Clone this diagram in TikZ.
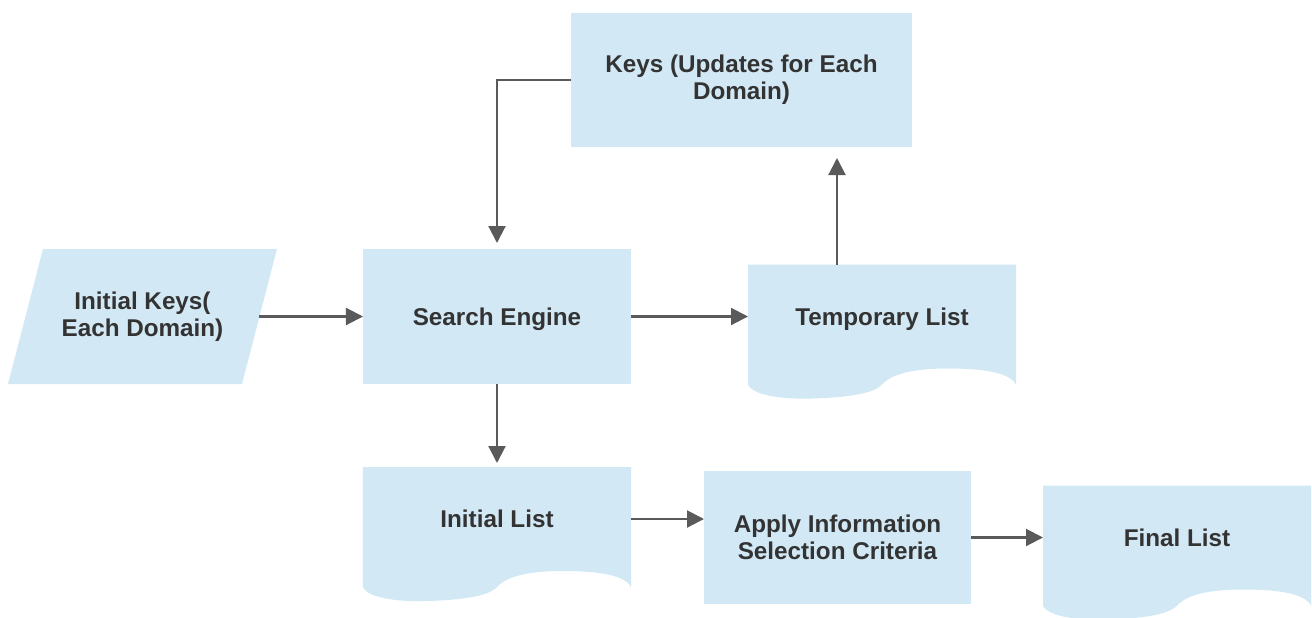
\documentclass[tikz,border=0pt]{standalone}
\usepackage{fontspec}
\setmainfont{Liberation Sans}
\usepackage{xcolor}
\usepackage{tikz}
\usetikzlibrary{
  arrows.meta,
  positioning,
  backgrounds,
  calc
}
\definecolor{boxblue}{HTML}{D2E8F5}
\definecolor{textgrey}{HTML}{333333}
\definecolor{arrowgrey}{HTML}{5A5A5A}
\tikzset{
  stepbox/.style={
    rectangle, fill=boxblue, draw=none, outer sep=0pt,
    minimum width=#1, minimum height=2.7cm, align=center,
    font=\fontsize{13.8pt}{15.5pt}\selectfont\bfseries, text=textgrey
  },
  stepbox/.default=5.36cm,
  inputbox/.style={
    rectangle, draw=none, outer sep=0pt,
    minimum width=4.68cm, minimum height=2.7cm, align=center,
    font=\fontsize{13.8pt}{15.5pt}\selectfont\bfseries, text=textgrey
  },
  listbox/.style={
    rectangle, draw=none, outer sep=0pt,
    minimum width=5.36cm, minimum height=2.08cm, align=center,
    text depth=0pt,
    font=\fontsize{13.8pt}{15.5pt}\selectfont\bfseries, text=textgrey
  },
  arrowstyle/.style={
    -{Triangle[length=0.34cm, width=0.34cm]}, line width=1.2pt, color=arrowgrey
  },
}
% slanted input shape behind an inputbox node
\newcommand{\inputshape}[1]{%
  \fill[boxblue] ($(#1.center)+(-1.99,1.35)$) -- ($(#1.center)+(2.69,1.35)$)
    -- ($(#1.center)+(1.99,-1.35)$) -- ($(#1.center)+(-2.69,-1.35)$) -- cycle;}
% wavy-bottom document shape behind a listbox node
\newcommand{\listshape}[1]{%
  \begin{scope}[shift={($(#1.south west)+(0,-0.32)$)}]
    \fill[boxblue] (0,0) -- (0,2.4) -- (5.36,2.4) -- (5.36,0)
      .. controls (5.24,0.24) and (4.7,0.32) .. (4.0,0.32)
      .. controls (3.4,0.32) and (2.9,0.24) .. (2.68,0)
      .. controls (2.5,-0.2) and (1.9,-0.26) .. (1.3,-0.28)
      .. controls (0.8,-0.3) and (0.1,-0.24) .. cycle;
  \end{scope}}

\begin{document}
\begin{tikzpicture}
  \useasboundingbox (-9.94,-6.01) rectangle (16.3,6.33);

  \node[stepbox, text depth=0pt] (search) at (0,0) {Search Engine};
  \node[inputbox, left=2.07cm of search] (initk) {Initial Keys(\\Each Domain)};
  \node[listbox, right=2.34cm of search] (temp) {Temporary List};
  \node[stepbox=6.82cm, minimum height=2.68cm, above=2.04cm of search, xshift=4.89cm] (keys)
    {Keys (Updates for Each\\Domain)};

  \node[listbox, below=1.66cm of search] (initl) {Initial List};
  \node[stepbox=5.34cm, minimum height=2.66cm, right=1.46cm of initl.east, yshift=-0.37cm] (apply)
    {Apply Information\\Selection Criteria};
  \node[listbox, right=1.44cm of apply] (final) {Final List};

  \begin{scope}[on background layer]
    \inputshape{initk}
    \listshape{temp}
    \listshape{initl}
    \listshape{final}
  \end{scope}

  \draw[arrowstyle] (initk) -- (search);
  \draw[arrowstyle] (search) -- (temp);
  \draw[arrowstyle, shorten >=0.22cm] ([xshift=-0.9cm]temp.north) -- ([xshift=-0.9cm]temp.north |- keys.south);
  \draw[arrowstyle, shorten >=0.12cm] (keys.west) -| (search.north);
  \draw[arrowstyle, shorten >=0.08cm] (search) -- (initl);
  \draw[arrowstyle] (initl.east) -- (initl.east -| apply.west);
  \draw[arrowstyle] (apply) -- (final);
\end{tikzpicture}
\end{document}
